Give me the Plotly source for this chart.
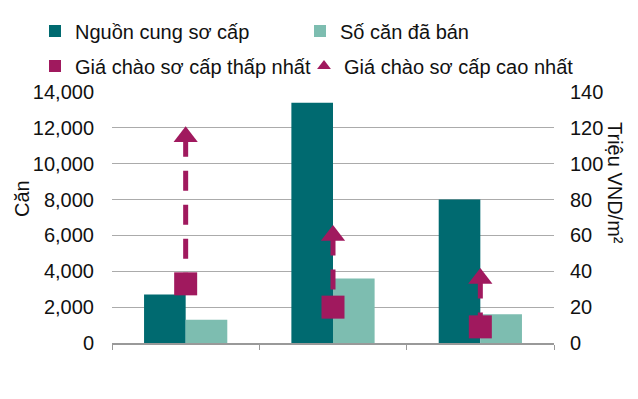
import plotly.graph_objects as go

categories = ["Dự án 1", "Dự án 2", "Dự án 3"]
supply = [2700, 13400, 8000]
sold = [1300, 3600, 1600]
price_min = [33, 20, 9]
price_max = [115, 60, 36]

DARK = "#006A70"
LIGHT = "#7DBDB0"
MAG = "#A0195E"
FONT = "Liberation Sans, Arial, sans-serif"
FS = 20
W, H = 630, 391

fig = go.Figure()
fig.add_trace(go.Bar(x=categories, y=supply, name="Nguồn cung sơ cấp",
                     marker=dict(color=DARK, line=dict(width=0)), legend="legend"))
fig.add_trace(go.Bar(x=categories, y=sold, name="Số căn đã bán",
                     marker=dict(color=LIGHT, line=dict(width=0)), legend="legend2"))

# dashed connectors from max to min
lx, ly = [], []
for c, hi, lo in zip(categories, price_max, price_min):
    lx += [c, c, None]
    ly += [hi, lo, None]
fig.add_trace(go.Scatter(x=lx, y=ly, yaxis="y2", mode="lines", showlegend=False,
                         line=dict(color=MAG, width=5, dash="20px,14px"), hoverinfo="skip"))
fig.add_trace(go.Scatter(x=categories, y=price_min, yaxis="y2", mode="markers",
                         name="Giá chào sơ cấp thấp nhất", legend="legend3",
                         marker=dict(symbol="square", size=23, color=MAG, line=dict(width=0))))
fig.add_trace(go.Scatter(x=categories, y=price_max, yaxis="y2", mode="markers",
                         name="Giá chào sơ cấp cao nhất", legend="legend4",
                         marker=dict(symbol="triangle-up", size=21, color=MAG, line=dict(width=0))))

legend_common = dict(xref="container", yref="container",
                     xanchor="left", yanchor="middle",
                     font=dict(family=FONT, size=FS, color="#111"), bgcolor="rgba(0,0,0,0)",
                     itemwidth=30, borderwidth=0, itemsizing="constant")

def lg(px, py):
    return dict(x=px/W, y=1-py/H, **legend_common)

fig.update_layout(
    width=W, height=H,
    margin=dict(l=104, r=84, t=84, b=56, autoexpand=False),
    paper_bgcolor="white", plot_bgcolor="white",
    barmode="group", bargap=0.435, bargroupgap=0,
    font=dict(family=FONT, size=FS, color="#111"),
    legend=lg(27, 23), legend2=lg(292, 23), legend3=lg(27, 58), legend4=lg(296, 58),
    xaxis=dict(type="category", showticklabels=False, tickson="boundaries",
               ticks="outside", ticklen=5, tickcolor="#999", showline=True,
               linecolor="#999", linewidth=1.5, showgrid=False),
    yaxis=dict(range=[0, 14000], dtick=2000, tickformat=",", showgrid=True,
               gridcolor="#ABABAB", gridwidth=1, zeroline=False, showline=False,
               ticks="", ticklabelstandoff=17, tickfont=dict(size=FS, color="#111")),
    yaxis2=dict(range=[0, 140], dtick=20, overlaying="y", side="right", showgrid=False,
                zeroline=False, showline=False, ticks="", ticklabelstandoff=15,
                tickfont=dict(size=FS, color="#111")),
    annotations=[
        dict(text="Căn", xref="paper", yref="paper", x=(22-112)/442, y=(343-199)/251,
             xanchor="center", yanchor="middle",
             textangle=-90, showarrow=False, font=dict(size=FS, color="#111")),
        dict(text="Triệu VND/m²", xref="paper", yref="paper", x=(615-112)/442, y=(343-183)/251,
             xanchor="center", yanchor="middle",
             textangle=90, showarrow=False, font=dict(size=FS, color="#111")),
    ],
)

fig.write_html("out.html")
